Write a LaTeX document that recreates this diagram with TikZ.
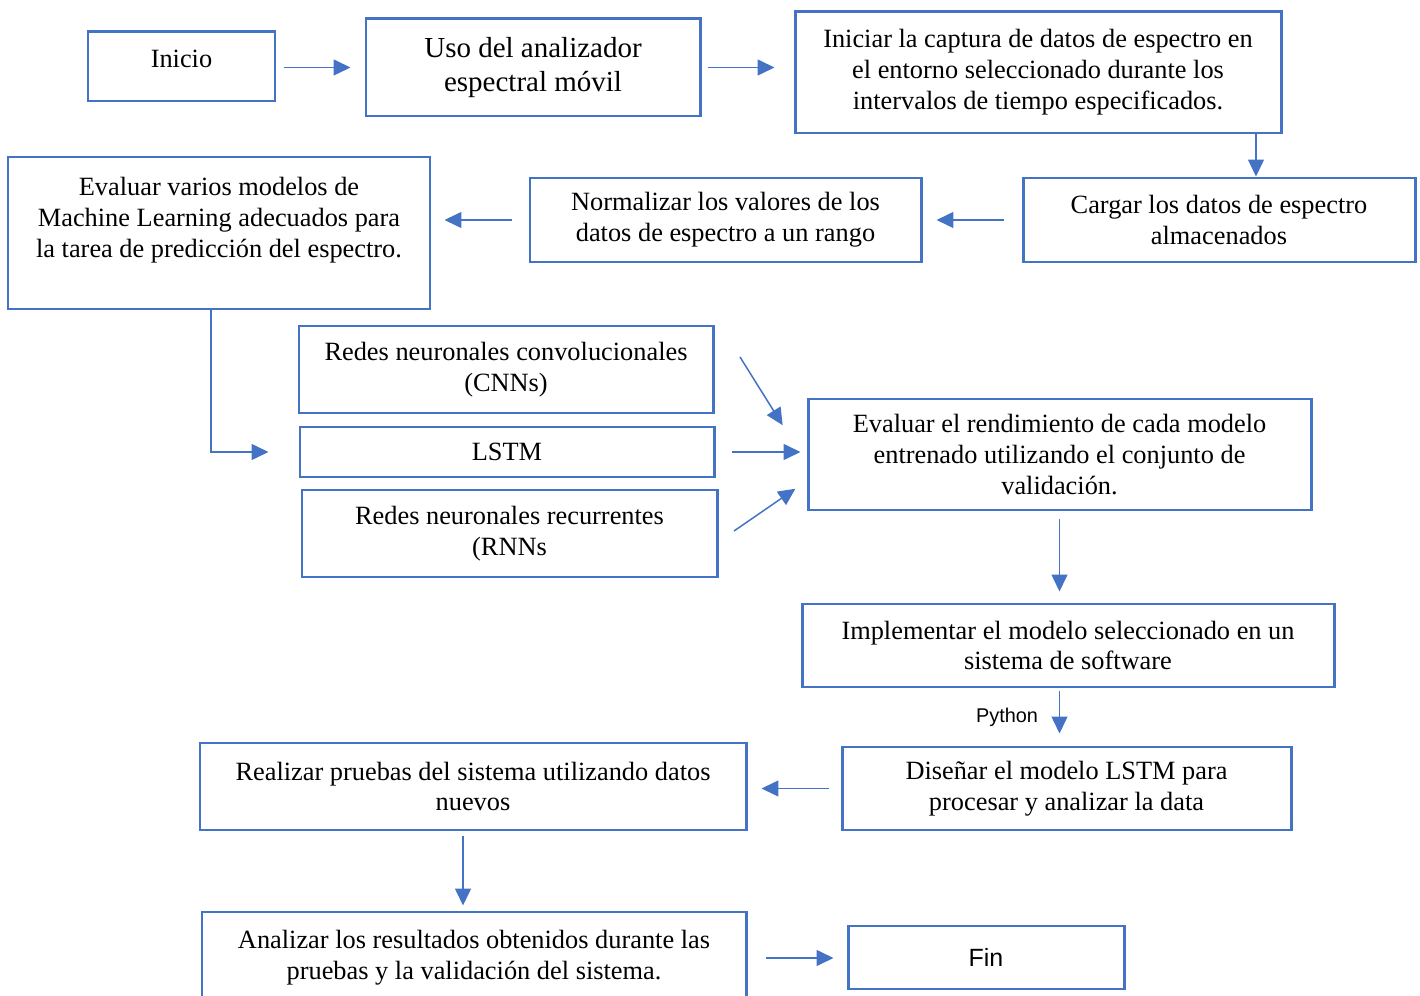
\documentclass[tikz,border=0pt]{standalone}
\usepackage{fontspec}
\setmainfont{Liberation Serif}
\newfontfamily\arialfont{Liberation Sans}
\usepackage{tikz}
\usetikzlibrary{arrows.meta}
\usetikzlibrary{positioning}
\definecolor{flowblue}{HTML}{4472C4}
\tikzset{box/.style={draw=flowblue, line width=1.7pt, align=center, inner sep=0pt,
  font=\fontsize{15}{17.6}\selectfont},
  boxsize/.style 2 args={minimum width=#1*0.02cm, minimum height=#2*0.02cm},
  arr/.style={flowblue, line width=0.85pt, -{Triangle[length=0.34cm, width=0.32cm]}}}

\begin{document}
\begin{tikzpicture}[x=0.02cm, y=-0.02cm]
      \useasboundingbox (0, 0) rectangle (1420, 996);

      \node [box, boxsize={187}{69}] (inicio) at (181.5, 66.5) {Inicio\\[-0.3cm]\mbox{}};
      \node [box, boxsize={334}{97}, font=\fontsize{16.5}{19.3}\selectfont] (uso) at (533, 67.5) {Uso del analizador\\espectral móvil};
      \node [box, boxsize={486}{121}] (captura) at (1038, 72.5) {Iniciar la captura de datos de espectro en\\el entorno seleccionado durante los\\intervalos de tiempo especificados.};
      \node [box, boxsize={392}{84}] (cargar) at (1219, 220) {Cargar los datos de espectro\\almacenados};
      \node [box, boxsize={391}{84}] (normalizar) at (725.5, 220) {Normalizar los valores de los\\datos de espectro a un rango};
      \node [box, boxsize={422}{152}] (modelos) at (219, 233) {Evaluar varios modelos de\\Machine Learning adecuados para\\la tarea de predicción del espectro.\\ \mbox{}};
      \node [box, boxsize={414}{87}] (cnn) at (506, 369.5) {Redes neuronales convolucionales\\(CNNs)};
      \node [box, boxsize={414}{50}] (lstm) at (507, 452) {LSTM};
      \node [box, boxsize={415}{87}] (rnn) at (509.5, 533.5) {Redes neuronales recurrentes\\(RNNs};
      \node [box, boxsize={503}{111}] (rendimiento) at (1059.5, 454.5) {Evaluar el rendimiento de cada modelo\\entrenado utilizando el conjunto de\\validación.};
      \node [box, boxsize={532}{83}] (implementar) at (1068, 645.5) {Implementar el modelo seleccionado en un\\sistema de software};
      \node [box, boxsize={449}{83}] (disenar) at (1066.5, 788.5) {Diseñar el modelo LSTM para\\procesar y analizar la data};
      \node [box, boxsize={546}{87}] (realizar) at (473, 786.5) {Realizar pruebas del sistema utilizando datos\\nuevos};
      \node [box, boxsize={544}{92}] (analizar) at (474, 958) {Analizar los resultados obtenidos durante las\\pruebas y la validación del sistema.};
      \node [box, boxsize={276}{63}, font=\arialfont\fontsize{14.2}{17}\selectfont] (fin) at (986, 957.5) {Fin};

      \coordinate (k) at ([xshift=0.74cm]cargar.north);
      \coordinate (m) at ([xshift=-0.16cm]modelos.south);
      \coordinate (r) at ([xshift=-0.2cm]realizar.south);
      \coordinate (tcnn) at (740, 357);
      \coordinate (trnn) at (734, 531);

      \draw [arr, shorten <=0.16cm, shorten >=0.28cm] (uso.west -| inicio.east) -- (uso.west);
      \draw [arr, shorten <=0.12cm, shorten >=0.38cm] (uso.east) -- (uso.east -| captura.west);
      \draw [arr] (k |- captura.south) -- (k);
      \draw [arr, shorten <=0.36cm, shorten >=0.28cm] (cargar.west) -- (normalizar.east);
      \draw [arr, shorten <=0.34cm, shorten >=0.26cm] (normalizar.west) -- (normalizar.west -| modelos.east);
      \draw [arr, shorten >=0.6cm] (m) |- (lstm.west);
      \draw [arr, shorten >=0.9cm] (tcnn) -- (rendimiento.182);
      \draw [arr, shorten <=0.34cm, shorten >=0.12cm] (lstm.east) -- (lstm.east -| rendimiento.west);
      \draw [arr, shorten >=0.27cm] (trnn) -- (rendimiento.186);
      \draw [arr, shorten <=0.16cm, shorten >=0.22cm] (rendimiento.south) -- (rendimiento.south |- implementar.north);
      \draw [arr, shorten <=0.06cm, shorten >=0.24cm] (rendimiento.south |- implementar.south) -- (rendimiento.south |- disenar.north)
        node [midway, left=0.3cm, black, font=\arialfont\fontsize{11.3}{13.5}\selectfont] {Python};
      \draw [arr, shorten <=0.24cm, shorten >=0.28cm] (disenar.west) -- (disenar.west -| realizar.east);
      \draw [arr, shorten <=0.1cm, shorten >=0.1cm] (r) -- (r |- analizar.north);
      \draw [arr, shorten <=0.38cm, shorten >=0.26cm] (analizar.east) -- (analizar.east -| fin.west);
\end{tikzpicture}
\end{document}
